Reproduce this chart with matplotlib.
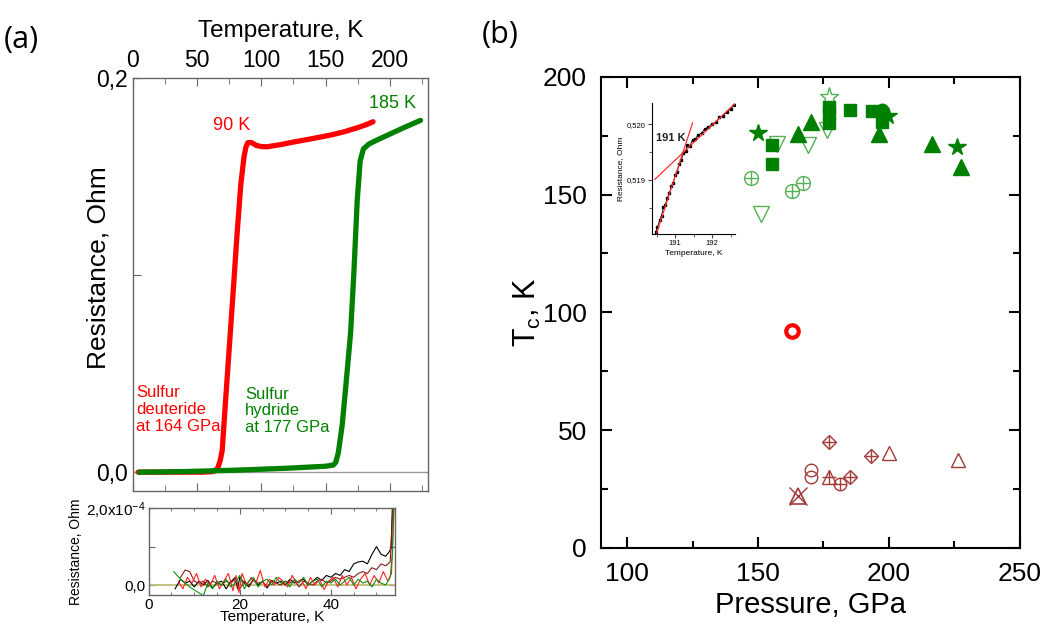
import matplotlib
matplotlib.use('Agg')
import matplotlib.pyplot as plt
from matplotlib.ticker import MultipleLocator

plt.rcParams['font.family'] = ['Liberation Sans', 'DejaVu Sans']
plt.rcParams['mathtext.fontset'] = 'custom'
plt.rcParams['mathtext.rm'] = 'Liberation Sans'
plt.rcParams['mathtext.it'] = 'Liberation Sans:italic'

# ---- panel (a): R(T) curves ----
red_T = [4, 20, 40, 55, 62, 64, 66, 68, 69.5, 72, 75, 78, 81, 84, 86.5, 88, 89.5, 92.5,
         96, 100, 104.5, 115, 125, 141, 155, 165, 175, 182, 187]
red_R = [0.0, 0.0, 0.0, 0.0, 0.0003, 0.0008, 0.002, 0.006, 0.011, 0.035, 0.063, 0.091,
         0.12, 0.146, 0.160, 0.165, 0.1672, 0.1672, 0.1658, 0.1652, 0.1651, 0.1662,
         0.1675, 0.1694, 0.1712, 0.1728, 0.1748, 0.1764, 0.1778]
green_T = [5, 40, 80, 120, 150, 156, 158, 160, 163, 166, 169.5, 172, 174.7, 177, 179.5,
           183.8, 190, 200, 210, 218, 224]
green_R = [0.0, 0.0003, 0.001, 0.002, 0.003, 0.0036, 0.005, 0.010, 0.024, 0.045, 0.0705,
           0.100, 0.138, 0.158, 0.164, 0.1665, 0.1685, 0.1715, 0.1745, 0.1768, 0.1785]

# ---- panel (a) inset: low-T noise, units of 1e-4 Ohm ----
blk_T = [5.8, 7, 8, 9, 10, 11, 12, 13, 14, 15,
         16, 17, 18, 19, 19.5, 20, 21, 22, 23, 24,
         25, 26, 27, 28, 29, 30, 31, 32, 33, 34,
         35, 36, 37, 38, 39, 40, 41, 42, 43, 44,
         45, 46, 47, 48, 49, 50, 51, 52, 52.7, 53.2, 53.6]
blk_R = [-0.1, 0.15, 0.05, 0.1, -0.05, 0.1, 0.0, 0.12, -0.08, 0.05,
         0.1, -0.1, 0.08, 0.2, -0.1, 0.2, 0.05, -0.05, 0.15, 0.0,
         0.1, -0.08, 0.12, 0.05, 0.1, 0.0, 0.15, 0.05, 0.1, 0.15,
         0.0, 0.1, 0.2, 0.12, 0.25, 0.2, 0.3, 0.25, 0.4, 0.35,
         0.55, 0.6, 0.62, 0.55, 0.8, 1.0, 0.8, 0.75, 0.85, 0.95, 2.5]
red_iT = [6.5, 7.5, 8.5, 9.5, 10.5, 11.5, 12.5, 13.5, 14.5, 15.5,
          16.5, 17.5, 18.5, 19.2, 19.8, 20.5, 21.5, 22.5, 23.5, 24.5,
          25.5, 26.5, 27.5, 28.5, 29.5, 30.5, 31.5, 32.5, 33.5, 34.5,
          35.5, 36.5, 37.5, 38.5, 39.5, 40.5, 41.5, 42.5, 43.5, 44.5,
          45.5, 46.5, 47.5, 48.5, 49.5, 50.5, 51.5, 52.5, 53.3, 53.9]
red_iR = [0.1, -0.1, 0.2, 0.05, 0.3, -0.05, 0.15, 0.0, 0.25, -0.1,
          0.1, 0.3, -0.15, 0.25, -0.2, 0.3, 0.0, 0.2, 0.05, 0.38,
          -0.05, 0.15, 0.0, 0.2, 0.1, -0.05, 0.25, 0.05, 0.15, -0.1,
          0.2, 0.0, 0.15, -0.12, 0.1, 0.2, -0.05, 0.25, 0.0, 0.2,
          -0.1, 0.15, 0.3, 0.0, 0.25, 0.05, 0.35, 0.1, 0.3, 2.5]
drd_T = [7, 8, 9, 10, 11, 12, 13, 14, 15, 16,
         17, 18, 19, 20, 21, 22, 23, 24, 25, 26,
         27, 28, 29, 30, 31, 32, 33, 34, 35, 36,
         37, 38, 39, 40, 41, 42, 43, 44, 45, 46,
         47, 48, 49, 50, 51, 52, 53, 53.8]
drd_R = [0.2, 0.39, 0.35, 0.1, 0.05, 0.1, -0.05, 0.1, 0.05, 0.0,
         0.1, 0.05, 0.15, -0.1, 0.1, 0.0, 0.12, 0.05, 0.08, -0.05,
         0.1, 0.05, 0.0, 0.1, 0.05, 0.12, -0.05, 0.1, 0.05, 0.0,
         0.1, 0.15, 0.05, 0.1, 0.2, 0.15, 0.2, 0.25, 0.2, 0.3,
         0.35, 0.3, 0.45, 0.4, 0.55, 0.5, 0.6, 2.5]
grn_T = [5.5, 7, 9, 12, 13, 14, 15, 16, 17, 18,
         19, 20, 21, 22, 23, 24, 25, 26, 27, 28,
         29, 30, 31, 32, 33, 34, 35, 36, 37, 38,
         39, 40, 41, 42, 43, 44, 45, 46, 47, 48,
         49, 50, 51, 52, 53, 53.5, 54]
grn_R = [0.35, 0.15, -0.05, -0.28, 0.05, -0.1, 0.1, 0.0, 0.15, -0.05,
         0.05, 0.25, -0.1, 0.1, 0.2, -0.05, 0.1, 0.15, 0.0, 0.2,
         0.05, 0.1, -0.05, 0.15, 0.05, 0.2, 0.0, 0.1, 0.15, -0.05,
         0.1, 0.05, 0.15, 0.0, 0.1, 0.2, 0.0, 0.15, 0.05, 0.1,
         -0.05, 0.15, 0.05, 0.0, 0.2, 0.8, 2.5]

# ---- panel (b): Tc vs pressure ----
g_sq_P = [155.2, 155.2, 177.1, 177.1, 177.1, 185.1, 193.4, 197.3]
g_sq_T = [171.2, 163.1, 187.3, 184.4, 180.2, 185.8, 185.6, 180.9]
g_tri_P = [165.1, 170.1, 196.2, 216.3, 227.4]
g_tri_T = [175.5, 180.9, 175.5, 171.6, 161.7]
g_star_P = [150.1, 199.8, 226.2]
g_star_T = [176.3, 183.4, 170.2]
g_circ_P = [197.3]
g_circ_T = [185.8]
g_dtri_P = [157.4, 169.2, 176.2, 151.1]
g_dtri_T = [171.6, 170.9, 177.3, 141.8]
g_ostar_P = [177.1]
g_ostar_T = [191.5]
g_ccirc_P = [147.2, 163.1, 167.1]
g_ccirc_T = [157.2, 151.3, 155.0]

b_cdia_P = [177.2, 193.1, 185.1]
b_cdia_T = [45.0, 39.2, 29.9]
b_tri_P = [200.1, 226.5]
b_tri_T = [40.3, 37.3]
b_circ_P = [170.1, 170.1]
b_circ_T = [33.2, 30.1]
b_ctri_P = [177.2]
b_ctri_T = [30.1]
b_ccirc_P = [181.3]
b_ccirc_T = [27.1]
b_xtri_P = [165.1]
b_xtri_T = [21.9]
sd_P = [163.1]
sd_T = [91.9]

# ---- panel (b) inset ----
ins_T = [190.47, 190.52, 190.58, 190.63, 190.68, 190.73, 190.79, 190.84, 190.9, 190.95,
         191.0, 191.06, 191.11, 191.17, 191.22, 191.28, 191.33, 191.4, 191.47, 191.55,
         191.63, 191.72, 191.8, 191.9, 192.0, 192.1, 192.2, 192.3, 192.4, 192.5, 192.58]
ins_R = [0.51806, 0.51815, 0.51828, 0.51836, 0.51851, 0.51855, 0.51868, 0.51876, 0.51889, 0.51895,
         0.51908, 0.51915, 0.51929, 0.51935, 0.51948, 0.51952, 0.51962, 0.51961, 0.51972, 0.51974,
         0.51981, 0.51984, 0.51992, 0.51994, 0.52001, 0.52003, 0.52012, 0.52015, 0.52022, 0.52027,
         0.52034]
fit1_T = [190.5, 191.47]
fit1_R = [0.51805, 0.52002]
fit2_T = [190.45, 192.62]
fit2_R = [0.51901, 0.52037]

GREEN = '#008000'
LGREEN = '#55b055'
BROWN = '#a23a3a'
SPINE_A = '#666666'

fig = plt.figure(figsize=(10.47, 6.24), dpi=100)

# ================= panel (a) main =================
ax = fig.add_axes([0.127, 0.213, 0.282, 0.662])
ax.axhline(0, color='#999999', lw=1)
ax.plot(red_T, red_R, color='#ff0000', lw=3.8, solid_capstyle='round')
ax.plot(green_T, green_R, color=GREEN, lw=3.8, solid_capstyle='round')
ax.set_xlim(0, 230)
ax.set_ylim(-0.0096, 0.2)
ax.xaxis.set_major_locator(MultipleLocator(50))
ax.xaxis.set_minor_locator(MultipleLocator(25))
ax.set_yticks([0, 0.1, 0.2])
ax.set_yticklabels(['0,0', '', '0,2'])
ax.tick_params(which='both', direction='in', top=True, labeltop=True,
               bottom=True, labelbottom=False, right=False, color=SPINE_A)
ax.tick_params(which='major', length=6, labelsize=16.5, pad=4)
ax.tick_params(which='minor', length=4)
ax.xaxis.set_label_position('top')
ax.set_xlabel('Temperature, K', fontsize=17.5, labelpad=9)
ax.set_ylabel('Resistance, Ohm', fontsize=19)
ax.yaxis.set_label_coords(-0.075, 0.54)
for s in ax.spines.values():
    s.set_color(SPINE_A)
    s.set_linewidth(1)
ax.text(62.5, 0.176, '90 K', color='#ff0000', fontsize=13, va='center')
ax.text(183.5, 0.187, '185 K', color=GREEN, fontsize=13, va='center')
ax.text(2.5, 0.0318, 'Sulfur\ndeuteride\nat 164 GPa', color='#ff0000', fontsize=12,
        va='center', linespacing=1.15)
ax.text(87.5, 0.0311, 'Sulfur\nhydride\nat 177 GPa', color=GREEN, fontsize=12,
        va='center', linespacing=1.15)

# ================= panel (a) inset =================
ai = fig.add_axes([0.142, 0.0465, 0.235, 0.139])
ai.axhline(0, color='#b8b870', lw=1.2)
ai.plot(blk_T, blk_R, color='black', lw=0.8)
ai.plot(drd_T, drd_R, color='#8b1a1a', lw=0.8)
ai.plot(red_iT, red_iR, color='#ff2020', lw=0.8)
ai.plot(grn_T, grn_R, color='#109010', lw=0.8)
ai.set_xlim(0, 54)
ai.set_ylim(-0.26, 2.0)
ai.set_xticks([0, 20, 40])
ai.xaxis.set_minor_locator(MultipleLocator(5))
ai.set_yticks([0, 1, 2])
ai.set_yticklabels(['0,0', '', '2,0x10$^{\\mathregular{-4}}$'])
ai.tick_params(which='both', direction='in', top=True, right=True, color=SPINE_A)
ai.tick_params(which='major', length=4, labelsize=11, pad=2)
ai.tick_params(which='minor', length=2)
ai.set_xlabel('Temperature, K', fontsize=11, labelpad=-1)
ai.set_ylabel('Resistance, Ohm', fontsize=10, labelpad=2)
for s in ai.spines.values():
    s.set_color(SPINE_A)
    s.set_linewidth(1)

# ================= panel (b) main =================
bx = fig.add_axes([0.574, 0.122, 0.400, 0.755])
mk = dict(linestyle='none')
bx.plot(g_ccirc_P, g_ccirc_T, marker='o', ms=10, mfc='none', mec=LGREEN, mew=1, **mk)
bx.plot(g_ccirc_P, g_ccirc_T, marker='+', ms=10, mec=LGREEN, mew=1, **mk)
bx.plot(g_dtri_P, g_dtri_T, marker='v', ms=11, mfc='none', mec=LGREEN, mew=1, **mk)
bx.plot(g_ostar_P, g_ostar_T, marker='*', ms=14, mfc='none', mec=LGREEN, mew=1, **mk)
bx.plot(g_sq_P, g_sq_T, marker='s', ms=8, color=GREEN, **mk)
bx.plot(g_tri_P, g_tri_T, marker='^', ms=11, color=GREEN, **mk)
bx.plot(g_star_P, g_star_T, marker='*', ms=13, color=GREEN, **mk)
bx.plot(g_circ_P, g_circ_T, marker='o', ms=9, color=GREEN, **mk)

bx.plot(b_cdia_P, b_cdia_T, marker='D', ms=7, mfc='none', mec=BROWN, mew=1, **mk)
bx.plot(b_cdia_P, b_cdia_T, marker='+', ms=9, mec=BROWN, mew=1, **mk)
bx.plot(b_tri_P, b_tri_T, marker='^', ms=10, mfc='none', mec=BROWN, mew=1, **mk)
bx.plot(b_circ_P, b_circ_T, marker='o', ms=9, mfc='none', mec=BROWN, mew=1, **mk)
bx.plot(b_ctri_P, b_ctri_T, marker='^', ms=10, mfc='none', mec=BROWN, mew=1, **mk)
bx.plot(b_ctri_P, b_ctri_T, marker='+', ms=10, mec=BROWN, mew=1, **mk)
bx.plot(b_ccirc_P, b_ccirc_T, marker='o', ms=9, mfc='none', mec=BROWN, mew=1, **mk)
bx.plot(b_ccirc_P, b_ccirc_T, marker='+', ms=9, mec=BROWN, mew=1, **mk)
bx.plot(b_xtri_P, b_xtri_T, marker='^', ms=11, mfc='none', mec=BROWN, mew=1.2, **mk)
bx.plot(b_xtri_P, b_xtri_T, marker='x', ms=13, mec=BROWN, mew=1, **mk)
bx.plot(sd_P, sd_T, marker='o', ms=9, mfc='none', mec='#ff0000', mew=3, **mk)

bx.set_xlim(90, 250)
bx.set_ylim(0, 200)
bx.xaxis.set_major_locator(MultipleLocator(50))
bx.xaxis.set_minor_locator(MultipleLocator(25))
bx.yaxis.set_major_locator(MultipleLocator(50))
bx.yaxis.set_minor_locator(MultipleLocator(25))
bx.tick_params(which='both', direction='in', top=True, right=True, width=1.5)
bx.tick_params(which='major', length=8, labelsize=19, pad=10)
bx.tick_params(which='minor', length=5)
for s in bx.spines.values():
    s.set_linewidth(1.5)
bx.set_xlabel('Pressure, GPa', fontsize=21, labelpad=4)
bx.set_ylabel('$\\mathregular{T_c}$, K', fontsize=22, labelpad=0)

# ================= panel (b) inset =================
bi = fig.add_axes([0.623, 0.625, 0.079, 0.210])
bi.plot(ins_T, ins_R, color='black', lw=0.6, marker='s', ms=1.8)
bi.plot(fit1_T, fit1_R, color='#ff3030', lw=0.9)
bi.plot(fit2_T, fit2_R, color='#ff3030', lw=0.9)
bi.set_xlim(190.38, 192.62)
bi.set_ylim(0.51803, 0.52038)
bi.set_xticks([191, 192])
bi.xaxis.set_minor_locator(MultipleLocator(0.5))
bi.set_yticks([0.519, 0.520])
bi.set_yticklabels(['0,519', '0,520'])
bi.yaxis.set_minor_locator(MultipleLocator(0.0005))
bi.spines['top'].set_visible(False)
bi.spines['right'].set_visible(False)
bi.tick_params(which='both', direction='out', color='#444444')
bi.tick_params(which='major', length=3, labelsize=5.5, pad=1.5)
bi.tick_params(which='minor', length=2)
bi.set_xlabel('Temperature, K', fontsize=6, labelpad=2)
bi.set_ylabel('Resistance, Ohm', fontsize=6, labelpad=2)
bi.text(190.47, 0.5197, '191 K', fontsize=8, fontweight='bold', color='#222222')
bi.set_facecolor('none')

fig.text(0.004, 0.936, '(a)', fontsize=22, family=['Open Sans', 'DejaVu Sans'], va='center')
fig.text(0.460, 0.944, '(b)', fontsize=22, family=['Open Sans', 'DejaVu Sans'], va='center')

fig.savefig('out.png', dpi=100)
plt.close(fig)
